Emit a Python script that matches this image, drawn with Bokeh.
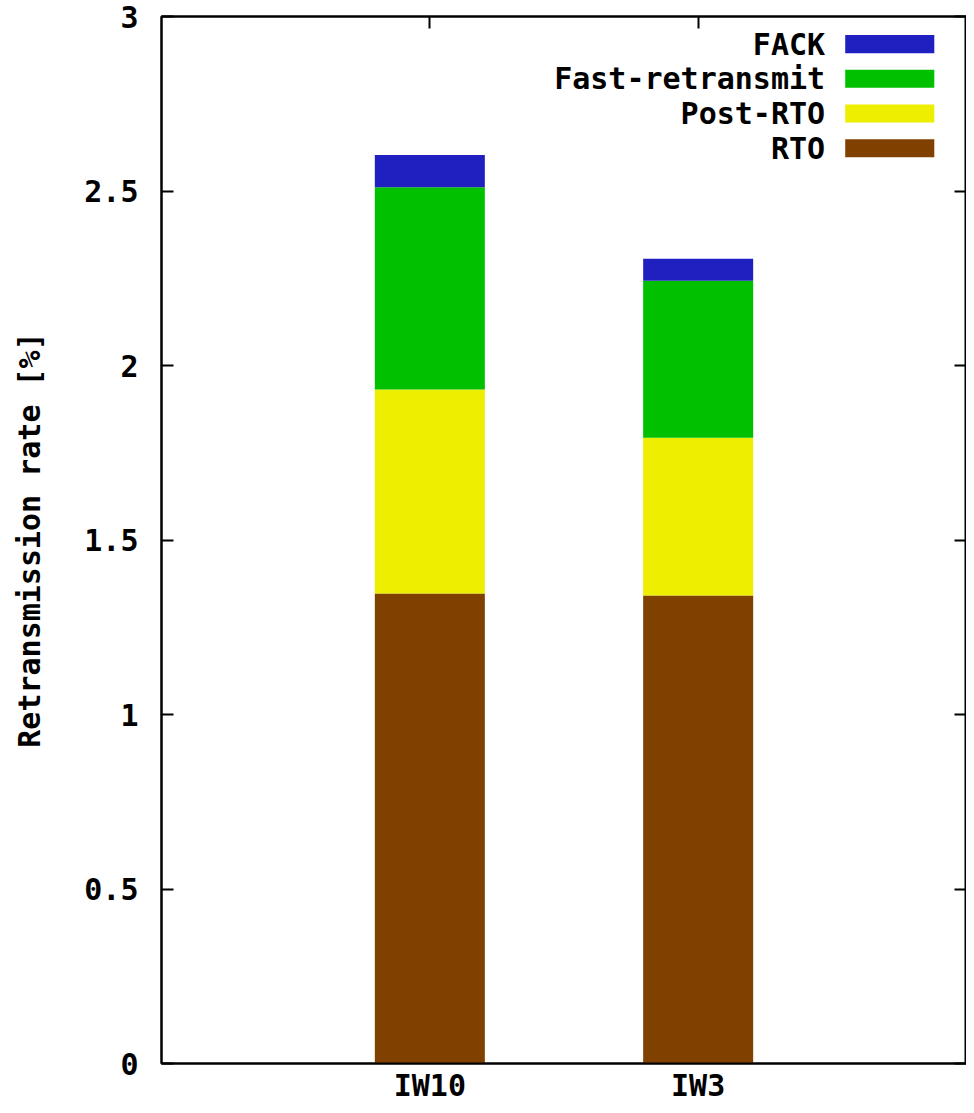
from bokeh.plotting import figure
from bokeh.models import (ColumnDataSource, Range1d, LinearAxis, FixedTicker,
                          NumeralTickFormatter, Label, BoxAnnotation)
from bokeh.embed import file_html
from bokeh.resources import INLINE

categories = ["IW10", "IW3"]
series = ["RTO", "Post-RTO", "Fast-retransmit", "FACK"]
rto = [1.347, 1.341]
post_rto = [0.584, 0.452]
fast_retransmit = [0.580, 0.450]
fack = [0.092, 0.063]
colors = ["#804000", "#eeee00", "#00c000", "#2020c0"]
y_ticks = [0, 0.5, 1, 1.5, 2, 2.5, 3]

FONT = "DejaVu Sans Mono"
FS = "30px"

xs = [i + 1 for i in range(len(categories))]
src = ColumnDataSource(dict(x=xs, **{"RTO": rto, "Post-RTO": post_rto,
                                     "Fast-retransmit": fast_retransmit, "FACK": fack}))

p = figure(width=966, height=1105, output_backend="svg", toolbar_location=None,
           x_range=Range1d(0, 3), y_range=Range1d(0, 3),
           min_border_left=161, min_border_right=0, min_border_top=16, min_border_bottom=42)
p.grid.visible = False
p.outline_line_color = "black"
p.outline_line_width = 2

p.vbar_stack(series, x="x", width=0.41, source=src, color=colors, line_width=0)

# left axis
ya = p.yaxis[0]
ya.ticker = FixedTicker(ticks=y_ticks)
ya.formatter = NumeralTickFormatter(format="0.[0]")
ya.major_tick_in = 12
ya.major_tick_out = 0
ya.minor_tick_line_color = None
ya.axis_line_width = 2
ya.axis_line_color = "black"
ya.major_tick_line_width = 2
ya.major_tick_line_color = "black"
ya.major_label_text_font = FONT
ya.major_label_text_font_style = "bold"
ya.major_label_text_font_size = FS
ya.major_label_text_color = "black"
ya.major_label_standoff = 23
ya.axis_label = "Retransmission rate [%]"
ya.axis_label_text_font = FONT
ya.axis_label_text_font_style = "bold"
ya.axis_label_text_font_size = FS
ya.axis_label_text_color = "black"
ya.axis_label_standoff = 34

# bottom axis
xa = p.xaxis[0]
xa.ticker = FixedTicker(ticks=xs)
xa.major_label_overrides = {x: c for x, c in zip(xs, categories)}
xa.major_tick_in = 0
xa.major_tick_out = 0
xa.minor_tick_line_color = None
xa.axis_line_width = 2
xa.axis_line_color = "black"
xa.major_label_text_font = FONT
xa.major_label_text_font_style = "bold"
xa.major_label_text_font_size = FS
xa.major_label_text_color = "black"
xa.major_label_standoff = 4

# mirrored axes (ticks only)
ra = LinearAxis(ticker=FixedTicker(ticks=y_ticks), major_tick_in=12, major_tick_out=0,
                minor_tick_line_color=None,
                major_label_overrides={t: "" for t in y_ticks},
                axis_line_width=2, axis_line_color="black",
                major_tick_line_width=2, major_tick_line_color="black",
                major_label_standoff=0)
p.add_layout(ra, "right")
ta = LinearAxis(ticker=FixedTicker(ticks=xs), major_tick_in=12, major_tick_out=0,
                minor_tick_line_color=None,
                major_label_overrides={t: "" for t in xs},
                axis_line_width=2, axis_line_color="black",
                major_tick_line_width=2, major_tick_line_color="black",
                major_label_standoff=0)
p.add_layout(ta, "above")

# legend (gnuplot style: label then swatch on right)
leg_top = 2.921
leg_step = 0.0995
for i, (name, col) in enumerate(zip(series[::-1], colors[::-1])):
    yc = leg_top - i * leg_step
    p.add_layout(Label(x=2.473, y=yc, text=name, text_align="right", text_baseline="middle",
                       text_font=FONT, text_font_style="bold", text_font_size=FS,
                       text_color="black"))
    p.add_layout(BoxAnnotation(left=2.548, right=2.880, bottom=yc - 0.026, top=yc + 0.026,
                               fill_color=col, fill_alpha=1, line_color=None))

open("out.html", "w").write(file_html(p, INLINE))
